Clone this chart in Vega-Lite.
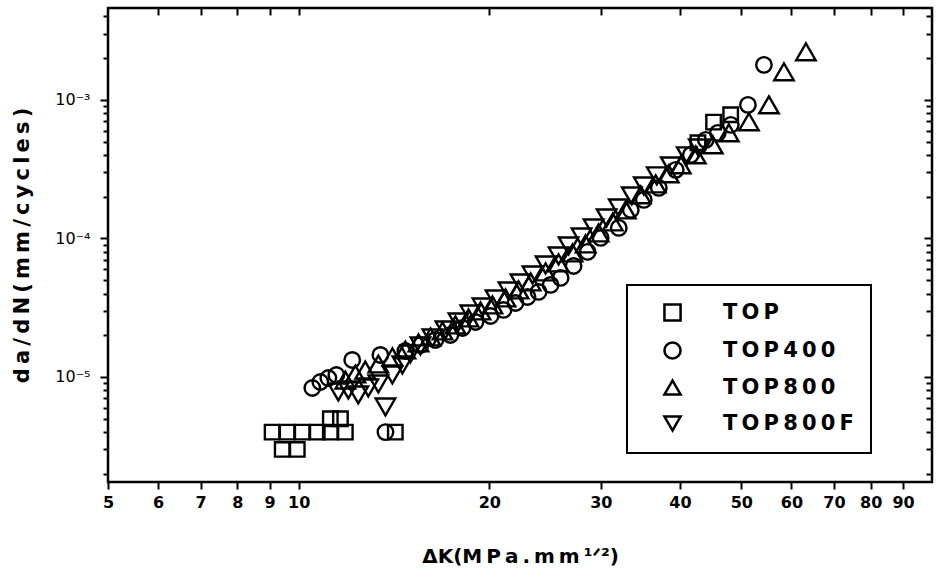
{
  "$schema": "https://vega.github.io/schema/vega-lite/v6.json",
  "width": 824,
  "height": 474,
  "autosize": {"type": "none"},
  "padding": {"left": 108, "top": 8, "right": 7, "bottom": 92},
  "background": "white",
  "config": {
    "view": {"stroke": "black", "strokeWidth": 2.5},
    "axis": {"domain": false, "grid": false, "tickColor": "black", "tickWidth": 2, "labelColor": "black", "titleColor": "black", "labelFont": "DejaVu Sans", "titleFont": "DejaVu Sans"},
    "legend": {"strokeWidth": 2}
  },
  "data": {
    "values": [
      {"s": "TOP", "dK": 9.08, "v": 4e-6},
      {"s": "TOP", "dK": 9.59, "v": 4e-6},
      {"s": "TOP", "dK": 10.13, "v": 4e-6},
      {"s": "TOP", "dK": 10.70, "v": 4e-6},
      {"s": "TOP", "dK": 11.22, "v": 4e-6},
      {"s": "TOP", "dK": 11.85, "v": 4e-6},
      {"s": "TOP", "dK": 9.42, "v": 3e-6},
      {"s": "TOP", "dK": 9.95, "v": 3e-6},
      {"s": "TOP", "dK": 11.22, "v": 5e-6},
      {"s": "TOP", "dK": 11.64, "v": 5e-6},
      {"s": "TOP", "dK": 14.21, "v": 4e-6},
      {"s": "TOP", "dK": 42.7, "v": 4.9e-4},
      {"s": "TOP", "dK": 45.2, "v": 6.9e-4},
      {"s": "TOP", "dK": 48.1, "v": 7.8e-4},
      {"s": "TOP400", "dK": 10.51, "v": 8.33e-6},
      {"s": "TOP400", "dK": 10.82, "v": 9.2e-6},
      {"s": "TOP400", "dK": 11.14, "v": 9.83e-6},
      {"s": "TOP400", "dK": 11.47, "v": 1.034e-5},
      {"s": "TOP400", "dK": 12.15, "v": 1.327e-5},
      {"s": "TOP400", "dK": 13.46, "v": 1.442e-5},
      {"s": "TOP400", "dK": 13.71, "v": 4.0e-6},
      {"s": "TOP400", "dK": 14.74, "v": 1.54e-5},
      {"s": "TOP400", "dK": 15.57, "v": 1.702e-5},
      {"s": "TOP400", "dK": 16.44, "v": 1.85e-5},
      {"s": "TOP400", "dK": 17.36, "v": 2.01e-5},
      {"s": "TOP400", "dK": 18.14, "v": 2.258e-5},
      {"s": "TOP400", "dK": 19.02, "v": 2.495e-5},
      {"s": "TOP400", "dK": 20.09, "v": 2.757e-5},
      {"s": "TOP400", "dK": 21.06, "v": 3.047e-5},
      {"s": "TOP400", "dK": 22.0, "v": 3.422e-5},
      {"s": "TOP400", "dK": 22.98, "v": 3.781e-5},
      {"s": "TOP400", "dK": 23.92, "v": 4.109e-5},
      {"s": "TOP400", "dK": 24.99, "v": 4.616e-5},
      {"s": "TOP400", "dK": 25.92, "v": 5.186e-5},
      {"s": "TOP400", "dK": 27.17, "v": 6.329e-5},
      {"s": "TOP400", "dK": 28.59, "v": 7.991e-5},
      {"s": "TOP400", "dK": 29.98, "v": 1.008e-4},
      {"s": "TOP400", "dK": 32.02, "v": 1.191e-4},
      {"s": "TOP400", "dK": 33.45, "v": 1.606e-4},
      {"s": "TOP400", "dK": 35.07, "v": 1.897e-4},
      {"s": "TOP400", "dK": 37.04, "v": 2.316e-4},
      {"s": "TOP400", "dK": 39.39, "v": 3.123e-4},
      {"s": "TOP400", "dK": 41.61, "v": 4.007e-4},
      {"s": "TOP400", "dK": 43.94, "v": 5.143e-4},
      {"s": "TOP400", "dK": 45.9, "v": 5.776e-4},
      {"s": "TOP400", "dK": 48.12, "v": 6.6e-4},
      {"s": "TOP400", "dK": 51.21, "v": 9.2e-4},
      {"s": "TOP400", "dK": 54.28, "v": 1.789e-3},
      {"s": "TOP800", "dK": 11.85, "v": 9.51e-6},
      {"s": "TOP800", "dK": 12.29, "v": 1.051e-5},
      {"s": "TOP800", "dK": 12.74, "v": 1.123e-5},
      {"s": "TOP800", "dK": 13.36, "v": 1.241e-5},
      {"s": "TOP800", "dK": 14.06, "v": 1.395e-5},
      {"s": "TOP800", "dK": 14.74, "v": 1.566e-5},
      {"s": "TOP800", "dK": 15.46, "v": 1.76e-5},
      {"s": "TOP800", "dK": 16.15, "v": 1.945e-5},
      {"s": "TOP800", "dK": 16.87, "v": 2.148e-5},
      {"s": "TOP800", "dK": 17.68, "v": 2.374e-5},
      {"s": "TOP800", "dK": 18.54, "v": 2.667e-5},
      {"s": "TOP800", "dK": 19.37, "v": 2.996e-5},
      {"s": "TOP800", "dK": 20.23, "v": 3.311e-5},
      {"s": "TOP800", "dK": 21.21, "v": 3.719e-5},
      {"s": "TOP800", "dK": 22.24, "v": 4.249e-5},
      {"s": "TOP800", "dK": 23.24, "v": 4.852e-5},
      {"s": "TOP800", "dK": 24.54, "v": 5.729e-5},
      {"s": "TOP800", "dK": 25.73, "v": 6.655e-5},
      {"s": "TOP800", "dK": 27.07, "v": 7.859e-5},
      {"s": "TOP800", "dK": 28.38, "v": 9.126e-5},
      {"s": "TOP800", "dK": 29.76, "v": 1.096e-4},
      {"s": "TOP800", "dK": 31.33, "v": 1.315e-4},
      {"s": "TOP800", "dK": 32.85, "v": 1.606e-4},
      {"s": "TOP800", "dK": 34.69, "v": 2.061e-4},
      {"s": "TOP800", "dK": 36.63, "v": 2.474e-4},
      {"s": "TOP800", "dK": 38.4, "v": 2.922e-4},
      {"s": "TOP800", "dK": 40.12, "v": 3.393e-4},
      {"s": "TOP800", "dK": 42.37, "v": 4.007e-4},
      {"s": "TOP800", "dK": 45.07, "v": 4.733e-4},
      {"s": "TOP800", "dK": 47.78, "v": 5.776e-4},
      {"s": "TOP800", "dK": 51.4, "v": 6.94e-4},
      {"s": "TOP800", "dK": 55.28, "v": 9.2e-4},
      {"s": "TOP800", "dK": 58.38, "v": 1.593e-3},
      {"s": "TOP800", "dK": 63.23, "v": 2.221e-3},
      {"s": "TOP800F", "dK": 11.55, "v": 7.79e-6},
      {"s": "TOP800F", "dK": 11.98, "v": 8.06e-6},
      {"s": "TOP800F", "dK": 12.42, "v": 7.41e-6},
      {"s": "TOP800F", "dK": 12.88, "v": 8.33e-6},
      {"s": "TOP800F", "dK": 13.36, "v": 8.9e-6},
      {"s": "TOP800F", "dK": 13.71, "v": 6.07e-6},
      {"s": "TOP800F", "dK": 14.06, "v": 1.034e-5},
      {"s": "TOP800F", "dK": 14.58, "v": 1.221e-5},
      {"s": "TOP800F", "dK": 15.01, "v": 1.466e-5},
      {"s": "TOP800F", "dK": 15.57, "v": 1.674e-5},
      {"s": "TOP800F", "dK": 16.26, "v": 1.912e-5},
      {"s": "TOP800F", "dK": 17.05, "v": 2.185e-5},
      {"s": "TOP800F", "dK": 17.88, "v": 2.495e-5},
      {"s": "TOP800F", "dK": 18.67, "v": 2.85e-5},
      {"s": "TOP800F", "dK": 19.51, "v": 3.202e-5},
      {"s": "TOP800F", "dK": 20.46, "v": 3.658e-5},
      {"s": "TOP800F", "dK": 21.45, "v": 4.178e-5},
      {"s": "TOP800F", "dK": 22.4, "v": 4.772e-5},
      {"s": "TOP800F", "dK": 23.4, "v": 5.451e-5},
      {"s": "TOP800F", "dK": 24.54, "v": 6.437e-5},
      {"s": "TOP800F", "dK": 25.73, "v": 7.475e-5},
      {"s": "TOP800F", "dK": 26.68, "v": 8.83e-5},
      {"s": "TOP800F", "dK": 27.97, "v": 1.025e-4},
      {"s": "TOP800F", "dK": 29.22, "v": 1.191e-4},
      {"s": "TOP800F", "dK": 30.64, "v": 1.406e-4},
      {"s": "TOP800F", "dK": 32.02, "v": 1.66e-4},
      {"s": "TOP800F", "dK": 33.57, "v": 2.027e-4},
      {"s": "TOP800F", "dK": 35.07, "v": 2.394e-4},
      {"s": "TOP800F", "dK": 36.77, "v": 2.827e-4},
      {"s": "TOP800F", "dK": 38.69, "v": 3.338e-4},
      {"s": "TOP800F", "dK": 41.01, "v": 3.942e-4},
      {"s": "TOP800F", "dK": 42.83, "v": 4.501e-4}
    ]
  },
  "layer": [
    {
      "encoding": {
        "x": {
          "field": "dK", "type": "quantitative",
          "scale": {"type": "log", "domain": [5, 100], "nice": false, "zero": false},
          "axis": {
            "orient": "bottom",
            "values": [5, 6, 7, 8, 9, 10, 20, 30, 40, 50, 60, 70, 80, 90],
            "format": "d",
            "tickSize": 7,
            "labelFontSize": 16, "labelFontWeight": "bold", "labelPadding": 5, "labelFlush": false,
            "title": "ΔK(M\u2009P\u2009a\u2009.\u2009m\u2009m\u2009¹ᐟ²)",
            "titleFontSize": 20, "titleFontWeight": "bold", "titlePadding": 36
          }
        },
        "y": {
          "field": "v", "type": "quantitative",
          "scale": {"type": "log", "domain": [1.746e-6, 4.6e-3], "nice": false, "zero": false},
          "axis": {
            "orient": "left",
            "values": [2e-6, 3e-6, 4e-6, 5e-6, 6e-6, 7e-6, 8e-6, 9e-6, 1e-5, 2e-5, 3e-5, 4e-5, 5e-5, 6e-5, 7e-5, 8e-5, 9e-5, 1e-4, 2e-4, 3e-4, 4e-4, 5e-4, 6e-4, 7e-4, 8e-4, 9e-4, 1e-3, 2e-3, 3e-3, 4e-3],
            "labelExpr": "datum.value == 0.001 ? '10⁻³' : datum.value == 0.0001 ? '10⁻⁴' : datum.value == 0.00001 ? '10⁻⁵' : ''",
            "tickSize": {"condition": {"test": "datum.value == 0.001 || datum.value == 0.0001 || datum.value == 0.00001", "value": 8}, "value": 5},
            "labelFontSize": 16, "labelPadding": 10, "labelFlush": false,
            "title": "d\u2009a\u2009/\u2009d\u2009N\u2009(\u2009m\u2009m\u2009/\u2009c\u2009y\u2009c\u2009l\u2009e\u2009s\u2009)",
            "titleFontSize": 21, "titleFontWeight": "bold", "titlePadding": 22
          }
        },
        "shape": {
          "field": "s", "type": "nominal",
          "scale": {"domain": ["TOP", "TOP400", "TOP800", "TOP800F"], "range": ["square", "circle", "triangle-up", "triangle-down"]},
          "legend": {
            "title": null, "orient": "none", "legendX": 519, "legendY": 277,
            "padding": 17, "strokeColor": "black", "fillColor": "white",
            "labelFont": "DejaVu Sans", "labelFontWeight": "bold", "labelFontSize": 21, "labelColor": "black",
            "labelExpr": "datum.label == 'TOP' ? 'T\u2009O\u2009P' : datum.label == 'TOP400' ? 'T\u2009O\u2009P\u20094\u20090\u20090' : datum.label == 'TOP800' ? 'T\u2009O\u2009P\u20098\u20090\u20090' : 'T\u2009O\u2009P\u20098\u20090\u20090\u2009F'",
            "symbolSize": 260, "symbolStrokeWidth": 2.5, "symbolStrokeColor": "black", "symbolFillColor": "white",
            "rowPadding": 11, "labelOffset": 40, "symbolOffset": 18
          }
        }
      },
      "layer": [
        {"transform": [{"filter": "datum.s == 'TOP'"}], "mark": {"type": "point", "filled": false, "color": "black", "strokeWidth": 2.4, "opacity": 1, "size": 210}},
        {"transform": [{"filter": "datum.s == 'TOP400'"}], "mark": {"type": "point", "filled": false, "color": "black", "strokeWidth": 2.4, "opacity": 1, "size": 240}},
        {"transform": [{"filter": "datum.s == 'TOP800'"}], "mark": {"type": "point", "filled": false, "color": "black", "strokeWidth": 2.4, "opacity": 1, "size": 380}},
        {"transform": [{"filter": "datum.s == 'TOP800F'"}], "mark": {"type": "point", "filled": false, "color": "black", "strokeWidth": 2.4, "opacity": 1, "size": 380}}
      ]
    },
    {
      "mark": {"type": "point", "opacity": 0},
      "encoding": {
        "x": {
          "field": "dK", "type": "quantitative",
          "axis": {"orient": "top", "values": [6, 7, 8, 9, 10, 20, 30, 40, 50, 60, 70, 80, 90], "labels": false, "tickSize": -7, "title": null}
        },
        "y": {
          "field": "v", "type": "quantitative",
          "axis": {
            "orient": "right",
            "values": [2e-6, 3e-6, 4e-6, 5e-6, 6e-6, 7e-6, 8e-6, 9e-6, 1e-5, 2e-5, 3e-5, 4e-5, 5e-5, 6e-5, 7e-5, 8e-5, 9e-5, 1e-4, 2e-4, 3e-4, 4e-4, 5e-4, 6e-4, 7e-4, 8e-4, 9e-4, 1e-3, 2e-3, 3e-3, 4e-3],
            "labels": false,
            "tickSize": {"condition": {"test": "datum.value == 0.001 || datum.value == 0.0001 || datum.value == 0.00001", "value": -8}, "value": -6},
            "title": null
          }
        }
      }
    }
  ],
  "resolve": {"axis": {"x": "independent", "y": "independent"}}
}
